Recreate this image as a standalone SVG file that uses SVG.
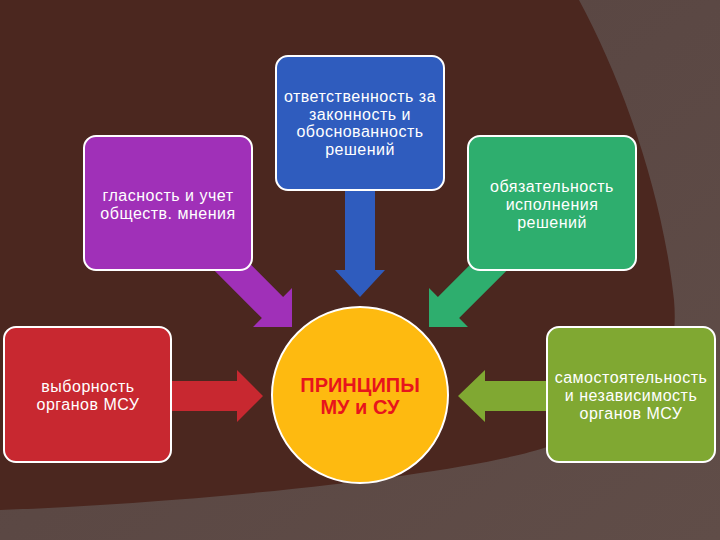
<svg xmlns="http://www.w3.org/2000/svg" width="720" height="540" viewBox="0 0 720 540">
  <defs>
    <linearGradient id="lightBg" x1="0" y1="0" x2="1" y2="1">
      <stop offset="0" stop-color="#564340"/>
      <stop offset="1" stop-color="#604d48"/>
    </linearGradient>
    <style>
      .box { stroke: #ffffff; stroke-width: 2; }
      .lbl { font-family: "Liberation Sans", Arial, sans-serif; font-size: 16px; letter-spacing: 0.5px; fill: #ffffff; text-anchor: middle; }
      .center { font-family: "Liberation Sans", Arial, sans-serif; font-size: 20px; font-weight: bold; fill: #e8141c; text-anchor: middle; }
    </style>
  </defs>

  <!-- background -->
  <rect x="0" y="0" width="720" height="540" fill="url(#lightBg)"/>
  <path d="M0,0 H579 C622,80 662,190 674,300 C680,370 650,420 547,447 C480,470 250,500 0,510 Z" fill="#4b271f"/>

  <!-- connectors -->
  <g id="connectors">
    <polygon points="345,185 375,185 375,270 385,270 360,297 335,270 345,270" fill="#2f5cbe"/>
    <polygon points="225.6,239.4 283.1,296.9 292,288 292,327 253,327 261.9,318.1 204.4,260.6" fill="#a030b8"/>
    <polygon points="495.4,239.4 437.9,296.9 429,288 429,327 468,327 459.1,318.1 516.6,260.6" fill="#2eae6e"/>
    <polygon points="165,381 237,381 237,370 263,396 237,422 237,411 165,411" fill="#c82830"/>
    <polygon points="552,381 485,381 485,370 458,396 485,422 485,411 552,411" fill="#80a832"/>
  </g>

  <g id="node-blue">
    <rect class="box" x="276" y="56" width="168" height="134" rx="12" fill="#2f5cbe"/>
    <text class="lbl" x="360" y="102">ответственность за</text>
    <text class="lbl" x="360" y="120">законность и</text>
    <text class="lbl" x="360" y="137">обоснованность</text>
    <text class="lbl" x="360" y="155">решений</text>
  </g>

  <g id="node-purple">
    <rect class="box" x="84" y="136" width="168" height="134" rx="12" fill="#a030b8"/>
    <text class="lbl" x="168" y="201">гласность и учет</text>
    <text class="lbl" x="168" y="219">обществ. мнения</text>
  </g>

  <g id="node-green">
    <rect class="box" x="468" y="136" width="168" height="134" rx="12" fill="#2eae6e"/>
    <text class="lbl" x="552" y="192">обязательность</text>
    <text class="lbl" x="552" y="210">исполнения</text>
    <text class="lbl" x="552" y="228">решений</text>
  </g>

  <g id="node-red">
    <rect class="box" x="4" y="327" width="167" height="135" rx="12" fill="#c82830"/>
    <text class="lbl" x="88" y="392">выборность</text>
    <text class="lbl" x="88" y="410">органов МСУ</text>
  </g>

  <g id="node-olive">
    <rect class="box" x="547" y="327" width="168" height="135" rx="12" fill="#80a832"/>
    <text class="lbl" x="631" y="383">самостоятельность</text>
    <text class="lbl" x="631" y="401">и независимость</text>
    <text class="lbl" x="631" y="419">органов МСУ</text>
  </g>

  <g id="node-center">
    <circle class="box" cx="360" cy="395" r="88" fill="#feba10"/>
    <text class="center" x="360" y="392">ПРИНЦИПЫ</text>
    <text class="center" x="360" y="414">МУ и СУ</text>
  </g>
</svg>
